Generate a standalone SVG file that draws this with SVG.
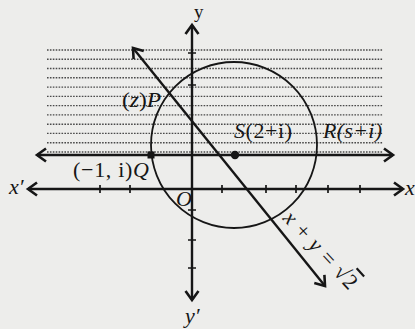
<svg xmlns="http://www.w3.org/2000/svg" width="415" height="329" viewBox="0 0 415 329">
<defs>
<style>
.ax{stroke:#161616;stroke-width:2.4;fill:none}
.tk{stroke:#161616;stroke-width:1.7;fill:none}
.cv{stroke:#161616;stroke-width:1.8;fill:none}
.dt{stroke:#4a4a4a;stroke-width:1.4;stroke-dasharray:1.6 1.3;fill:none}
.lbl{font-family:"Liberation Serif","Times New Roman",serif;font-size:22px;fill:#161616}
.it{font-style:italic}
</style>
<marker id="ar" markerWidth="18" markerHeight="18" refX="13" refY="9" orient="auto-start-reverse" markerUnits="userSpaceOnUse">
<path d="M4,2.5 L13,9 L4,15.5" fill="none" stroke="#161616" stroke-width="2.6"/>
</marker>
</defs>
<rect width="415" height="329" fill="#ededeb"/>
<g id="shading">
<path class="dt" d="M47,50H383M47,59.3H383M47,68.5H383M47,77.8H383M47,87.1H383M47,96.4H383M47,105.6H383M47,114.9H383M47,124.2H383M47,133.4H383M47,142.7H383M47,152H383"/>
</g>
<g id="connectors">
<line id="x-axis" class="ax" x1="28" y1="189" x2="403" y2="189" marker-start="url(#ar)" marker-end="url(#ar)"/>
<line id="y-axis" class="ax" x1="192" y1="25" x2="192" y2="300" marker-start="url(#ar)" marker-end="url(#ar)"/>
<line id="line-y1" class="ax" x1="37" y1="155" x2="393" y2="155" marker-start="url(#ar)" marker-end="url(#ar)"/>
<line id="line-diag" class="ax" x1="133" y1="48" x2="325" y2="286" marker-start="url(#ar)" marker-end="url(#ar)"/>
<path class="tk" d="M100,185V193M130,185V193M222,185V193M266,185V193M296,185V193M328,185V193M360,185V193"/>
<path class="tk" d="M188,53H196M188,85H196M188,210H196M188,240H196M188,268H196"/>
</g>
<g id="circle">
<circle class="cv" cx="234" cy="145" r="83"/>
</g>
<g id="node-Q">
<rect x="147.5" y="151.5" width="7" height="7" fill="#161616"/>
<text class="lbl" x="73" y="177" textLength="76" lengthAdjust="spacing">(−1, i)<tspan class="it">Q</tspan></text>
</g>
<g id="node-P">
<text class="lbl" x="122" y="107" textLength="39" lengthAdjust="spacingAndGlyphs">(<tspan class="it">z</tspan>)<tspan class="it">P</tspan></text>
</g>
<g id="node-S">
<circle cx="235" cy="155" r="4.2" fill="#161616"/>
<text class="lbl" x="234" y="138" textLength="58" lengthAdjust="spacing"><tspan class="it">S</tspan>(2+i)</text>
</g>
<g id="node-R">
<text class="lbl it" x="323" y="138" textLength="59" lengthAdjust="spacing">R(s+i)</text>
</g>
<g id="node-O">
<text class="lbl it" x="176" y="206">O</text>
</g>
<g id="axis-labels">
<text class="lbl" x="194" y="18" style="font-size:19px">y</text>
<text class="lbl it" x="185" y="323">y′</text>
<text class="lbl it" x="9" y="194">x′</text>
<text class="lbl it" x="405" y="195">x</text>
</g>
<g id="line-label">
<text class="lbl" transform="translate(282,219) rotate(47)" textLength="98" lengthAdjust="spacing"><tspan class="it">x</tspan> + <tspan class="it">y</tspan> = √<tspan text-decoration="overline">2</tspan></text>
</g>
</svg>
